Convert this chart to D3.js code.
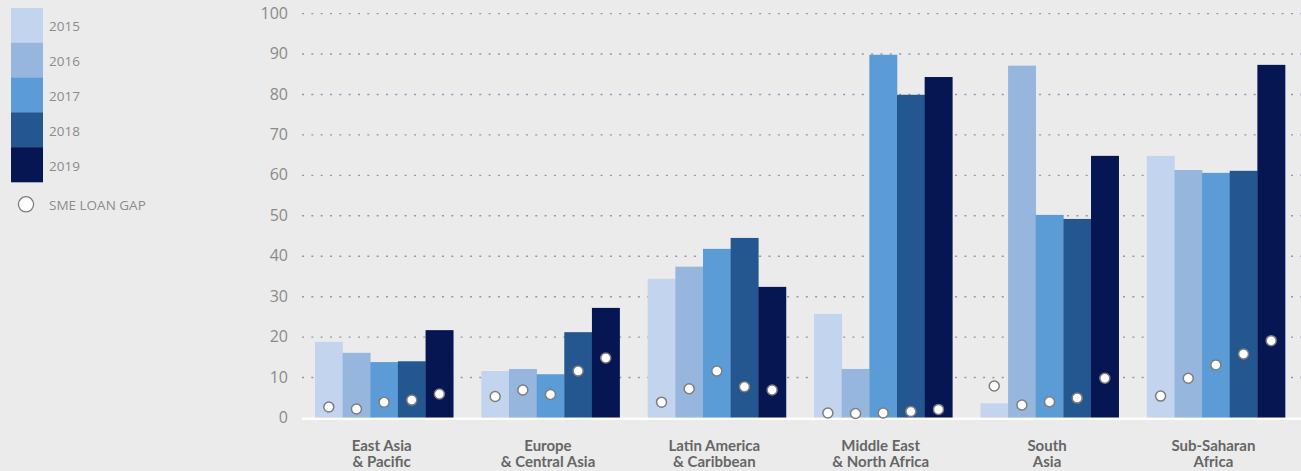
<!DOCTYPE html>
<html>
<head>
<meta charset="utf-8">
<script src="https://cdn.jsdelivr.net/npm/d3@7"></script>
<style>
  html, body { margin: 0; padding: 0; background: #ebebeb; }
  svg { display: block; }
</style>
</head>
<body>
<svg id="chart" width="1301" height="471"></svg>
<script>
// Regions (two-line labels)
const categories = [
  ["East Asia", "& Pacific"],
  ["Europe", "& Central Asia"],
  ["Latin America", "& Caribbean"],
  ["Middle East", "& North Africa"],
  ["South", "Asia"],
  ["Sub-Saharan", "Africa"]
];
const years = ["2015", "2016", "2017", "2018", "2019"];

// Bar values per year, one entry per region
const values2015 = [18.7, 11.5, 34.3, 25.6, 3.5, 64.7];
const values2016 = [16.0, 12.0, 37.3, 12.0, 87.0, 61.2];
const values2017 = [13.7, 10.7, 41.7, 89.7, 50.1, 60.5];
const values2018 = [13.9, 21.1, 44.4, 79.8, 49.1, 61.0];
const values2019 = [21.6, 27.1, 32.3, 84.2, 64.7, 87.2];

// SME loan gap per year, one entry per region
const gap2015 = [2.6, 5.2, 3.8, 1.1, 7.8, 5.3];
const gap2016 = [2.1, 6.8, 7.1, 1.0, 3.1, 9.7];
const gap2017 = [3.8, 5.7, 11.5, 1.1, 3.9, 13.0];
const gap2018 = [4.3, 11.5, 7.6, 1.5, 4.8, 15.7];
const gap2019 = [5.8, 14.7, 6.8, 2.0, 9.7, 19.0];

const yTicks = [0, 10, 20, 30, 40, 50, 60, 70, 80, 90, 100];
const legendGapLabel = "SME LOAN GAP";

const seriesValues = [values2015, values2016, values2017, values2018, values2019];
const seriesGaps = [gap2015, gap2016, gap2017, gap2018, gap2019];
const colors = ["#c3d5ee", "#96b6dd", "#5b9bd6", "#24568f", "#061652"];

const svg = d3.select("#chart");
const W = 1301;
const plotLeft = 302, plotRight = 1298;

const y = d3.scaleLinear().domain([0, 100]).range([417.5, 13.1]);

const x0 = d3.scaleBand()
  .domain(categories.map((d, i) => i))
  .range([plotLeft, plotRight])
  .paddingInner(0.169)
  .paddingOuter(0.078);

const x1 = d3.scaleBand()
  .domain(years)
  .range([0, x0.bandwidth()])
  .padding(0);

const color = d3.scaleOrdinal().domain(years).range(colors);

// Y axis with dotted gridlines
const yAxis = svg.append("g")
  .attr("transform", `translate(${plotLeft},0)`)
  .call(d3.axisLeft(y).tickValues(yTicks).tickSize(-(W - plotLeft)).tickPadding(14).tickFormat(d3.format("d")));
yAxis.select(".domain").remove();
yAxis.selectAll(".tick line")
  .attr("stroke", "#9296b6")
  .attr("stroke-width", 1.4)
  .attr("stroke-dasharray", "2,7.33")
  .filter(d => d === 0).remove();
yAxis.selectAll(".tick text")
  .attr("fill", "#8a8a8a")
  .style("font-family", "'Open Sans', sans-serif")
  .style("font-size", "16px");

// Baseline
svg.append("line")
  .attr("x1", plotLeft).attr("x2", W)
  .attr("y1", y(0) + 1.3).attr("y2", y(0) + 1.3)
  .attr("stroke", "#ffffff").attr("stroke-width", 2.6);

// Bars
const groups = svg.append("g").selectAll("g")
  .data(categories.map((c, i) => i))
  .join("g")
  .attr("transform", i => `translate(${x0(i)},0)`);

groups.selectAll("rect")
  .data(i => years.map((yr, k) => ({ yr, v: seriesValues[k][i] })))
  .join("rect")
  .attr("x", d => x1(d.yr))
  .attr("width", x1.bandwidth() + 0.3)
  .attr("y", d => y(d.v))
  .attr("height", d => y(0) - y(d.v))
  .attr("fill", d => color(d.yr));

groups.selectAll("circle")
  .data(i => years.map((yr, k) => ({ yr, v: seriesGaps[k][i] })))
  .join("circle")
  .attr("cx", d => x1(d.yr) + x1.bandwidth() / 2)
  .attr("cy", d => y(d.v))
  .attr("r", 5)
  .attr("fill", "#ffffff")
  .attr("stroke", "#7d7d7d")
  .attr("stroke-width", 1.5);

// Category labels
const xAxis = svg.append("g")
  .attr("transform", `translate(0,${y(0)})`)
  .call(d3.axisBottom(x0).tickSize(0).tickFormat(""));
xAxis.select(".domain").remove();
xAxis.selectAll(".tick text").each(function (i) {
  const t = d3.select(this)
    .attr("fill", "#666666")
    .attr("text-anchor", "middle")
    .attr("y", 0).attr("dy", 0)
    .style("font-family", "Lato, sans-serif")
    .style("font-weight", "700")
    .style("font-size", "15px");
  categories[i].forEach((line, j) => {
    t.append("tspan").attr("x", -2.5).attr("y", 33.5 + j * 15.5).text(line);
  });
});

// Legend
const legend = svg.append("g");
const swatchY = d3.scaleBand().domain(years).range([8, 182]);
legend.selectAll("rect")
  .data(years)
  .join("rect")
  .attr("x", 11).attr("width", 32)
  .attr("y", d => swatchY(d))
  .attr("height", swatchY.bandwidth() + 0.3)
  .attr("fill", d => color(d));
legend.selectAll("text.yr")
  .data(years)
  .join("text")
  .attr("class", "yr")
  .attr("x", 49)
  .attr("y", d => swatchY(d) + swatchY.bandwidth() / 2 + 6)
  .attr("fill", "#8c8c8c")
  .style("font-family", "'Open Sans', sans-serif")
  .style("font-size", "13.5px")
  .text(d => d);

legend.append("circle")
  .attr("cx", 26).attr("cy", 204.3).attr("r", 7.6)
  .attr("fill", "#ffffff").attr("stroke", "#7d7d7d").attr("stroke-width", 1.3);
legend.append("text")
  .attr("x", 49).attr("y", 209.5)
  .attr("fill", "#8c8c8c")
  .style("font-family", "'Open Sans', sans-serif")
  .style("font-size", "13.5px")
  .text(legendGapLabel);
</script>
</body>
</html>
